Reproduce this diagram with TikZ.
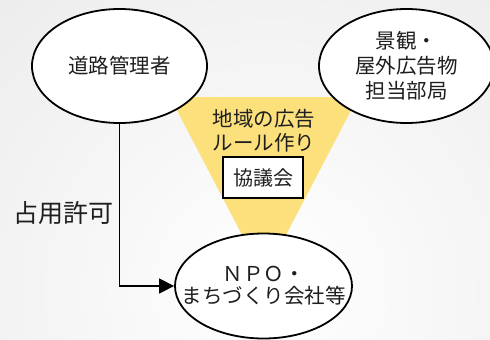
\documentclass[tikz,border=0pt]{standalone}
\usepackage{fontspec}
\setmainfont{Noto Sans CJK JP}
\usetikzlibrary{shapes.geometric,arrows.meta}
\definecolor{bggray}{RGB}{218,218,218}
\definecolor{tri}{RGB}{252,224,124}
\definecolor{txt}{RGB}{30,30,30}
\tikzset{
  oval/.style={ellipse, draw=black, line width=1.8pt, fill=white, inner sep=0pt,
    text=txt, align=center, font=\fontsize{20.5pt}{25pt}\selectfont},
  plainlabel/.style={text=txt, align=center, inner sep=0pt},
  boxnode/.style={draw=black, line width=1.4pt, fill=white, text=txt, inner sep=0pt,
    minimum width=80pt, minimum height=41pt, font=\fontsize{20pt}{24pt}\selectfont},
  conn/.style={line width=1.5pt, -{Triangle[length=15pt,width=15pt]}}
}
\begin{document}
\begin{tikzpicture}[x=1pt,y=-1pt]
\useasboundingbox (0,0) rectangle (490,340);
\begin{scope}
  \clip (0,0) rectangle (490,340);
  \shade[inner color=white, outer color=bggray] (270,290) circle (800);
\end{scope}
% yellow inverted triangle
\fill[tri] (170,97) -- (358,97) -- (264,277) -- cycle;
\node[plainlabel, font=\fontsize{20.5pt}{24pt}\selectfont] (rule) at (264,131) {地域の広告\\ルール作り};
\node[boxnode] (kyogi) at (263,177.5) {協議会};
% ellipses
\node[oval, minimum width=175pt, minimum height=114pt] (road) at (119.5,66) {\makebox[0pt][c]{道路管理者}};
\node[oval, minimum width=175pt, minimum height=114pt] (kei) at (406.5,66) {\makebox[0pt][c]{景観・}\\\makebox[0pt][c]{屋外広告物}\\\makebox[0pt][c]{担当部局}};
\node[oval, minimum width=177pt, minimum height=105pt, font=\fontsize{20.5pt}{22pt}\selectfont] (npo) at (263.5,286) {\makebox[0pt][c]{ＮＰＯ・}\\\makebox[0pt][c]{まちづくり会社等}};
% connector
\draw[conn] (road.south) |- (npo.west);
\node[plainlabel, font=\fontsize{25pt}{30pt}\selectfont] (perm) at (63.5,213) {占用許可};
\end{tikzpicture}
\end{document}
